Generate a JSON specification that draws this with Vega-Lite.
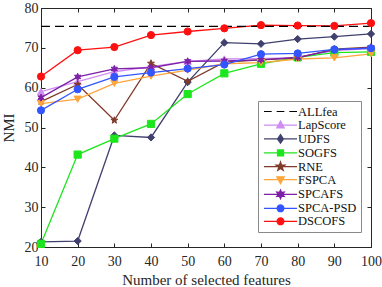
{
  "$schema": "https://vega.github.io/schema/vega-lite/v6.json",
  "width": 330,
  "height": 239,
  "autosize": {"type": "none"},
  "padding": {"left": 41, "top": 8, "right": 11, "bottom": 40},
  "background": "white",
  "config": {
    "view": {"stroke": "#262626", "strokeWidth": 1},
    "font": "Liberation Serif",
    "axis": {
      "labelFont": "Liberation Serif", "labelFontSize": 14, "labelColor": "#262626", "labelFlush": false,
      "titleFont": "Liberation Serif", "titleFontSize": 15, "titleFontWeight": "normal", "titleColor": "#262626",
      "domainColor": "#262626", "tickColor": "#262626", "tickSize": -4, "grid": false, "labelPadding": 11
    },
    "legend": {"symbolOpacity": 1}
  },
  "datasets": {
    "nmi": [
      {"features": 10, "method": "ALLfea", "nmi": 75.4}, {"features": 20, "method": "ALLfea", "nmi": 75.4}, {"features": 30, "method": "ALLfea", "nmi": 75.4}, {"features": 40, "method": "ALLfea", "nmi": 75.4}, {"features": 50, "method": "ALLfea", "nmi": 75.4}, {"features": 60, "method": "ALLfea", "nmi": 75.4}, {"features": 70, "method": "ALLfea", "nmi": 75.4}, {"features": 80, "method": "ALLfea", "nmi": 75.4}, {"features": 90, "method": "ALLfea", "nmi": 75.4}, {"features": 100, "method": "ALLfea", "nmi": 75.4},
      {"features": 10, "method": "LapScore", "nmi": 59.0}, {"features": 20, "method": "LapScore", "nmi": 61.5}, {"features": 30, "method": "LapScore", "nmi": 64.0}, {"features": 40, "method": "LapScore", "nmi": 65.3}, {"features": 50, "method": "LapScore", "nmi": 66.6}, {"features": 60, "method": "LapScore", "nmi": 67.2}, {"features": 70, "method": "LapScore", "nmi": 67.3}, {"features": 80, "method": "LapScore", "nmi": 67.6}, {"features": 90, "method": "LapScore", "nmi": 69.3}, {"features": 100, "method": "LapScore", "nmi": 69.8},
      {"features": 10, "method": "UDFS", "nmi": 21.3}, {"features": 20, "method": "UDFS", "nmi": 21.5}, {"features": 30, "method": "UDFS", "nmi": 48.0}, {"features": 40, "method": "UDFS", "nmi": 47.5}, {"features": 50, "method": "UDFS", "nmi": 61.4}, {"features": 60, "method": "UDFS", "nmi": 71.3}, {"features": 70, "method": "UDFS", "nmi": 71.0}, {"features": 80, "method": "UDFS", "nmi": 72.2}, {"features": 90, "method": "UDFS", "nmi": 72.8}, {"features": 100, "method": "UDFS", "nmi": 73.5},
      {"features": 10, "method": "SOGFS", "nmi": 20.8}, {"features": 20, "method": "SOGFS", "nmi": 43.2}, {"features": 30, "method": "SOGFS", "nmi": 47.2}, {"features": 40, "method": "SOGFS", "nmi": 50.9}, {"features": 50, "method": "SOGFS", "nmi": 58.4}, {"features": 60, "method": "SOGFS", "nmi": 63.6}, {"features": 70, "method": "SOGFS", "nmi": 66.0}, {"features": 80, "method": "SOGFS", "nmi": 67.6}, {"features": 90, "method": "SOGFS", "nmi": 68.8}, {"features": 100, "method": "SOGFS", "nmi": 69.0},
      {"features": 10, "method": "RNE", "nmi": 56.5}, {"features": 20, "method": "RNE", "nmi": 60.8}, {"features": 30, "method": "RNE", "nmi": 51.8}, {"features": 40, "method": "RNE", "nmi": 66.1}, {"features": 50, "method": "RNE", "nmi": 61.6}, {"features": 60, "method": "RNE", "nmi": 66.4}, {"features": 70, "method": "RNE", "nmi": 67.0}, {"features": 80, "method": "RNE", "nmi": 67.5}, {"features": 90, "method": "RNE", "nmi": 69.7}, {"features": 100, "method": "RNE", "nmi": 70.2},
      {"features": 10, "method": "FSPCA", "nmi": 56.0}, {"features": 20, "method": "FSPCA", "nmi": 57.1}, {"features": 30, "method": "FSPCA", "nmi": 61.1}, {"features": 40, "method": "FSPCA", "nmi": 62.9}, {"features": 50, "method": "FSPCA", "nmi": 64.4}, {"features": 60, "method": "FSPCA", "nmi": 66.0}, {"features": 70, "method": "FSPCA", "nmi": 66.3}, {"features": 80, "method": "FSPCA", "nmi": 67.2}, {"features": 90, "method": "FSPCA", "nmi": 67.5}, {"features": 100, "method": "FSPCA", "nmi": 68.5},
      {"features": 10, "method": "SPCAFS", "nmi": 57.5}, {"features": 20, "method": "SPCAFS", "nmi": 62.7}, {"features": 30, "method": "SPCAFS", "nmi": 64.7}, {"features": 40, "method": "SPCAFS", "nmi": 65.0}, {"features": 50, "method": "SPCAFS", "nmi": 66.6}, {"features": 60, "method": "SPCAFS", "nmi": 66.7}, {"features": 70, "method": "SPCAFS", "nmi": 67.0}, {"features": 80, "method": "SPCAFS", "nmi": 67.6}, {"features": 90, "method": "SPCAFS", "nmi": 69.5}, {"features": 100, "method": "SPCAFS", "nmi": 70.0},
      {"features": 10, "method": "SPCA-PSD", "nmi": 54.3}, {"features": 20, "method": "SPCA-PSD", "nmi": 59.6}, {"features": 30, "method": "SPCA-PSD", "nmi": 62.7}, {"features": 40, "method": "SPCA-PSD", "nmi": 63.8}, {"features": 50, "method": "SPCA-PSD", "nmi": 64.8}, {"features": 60, "method": "SPCA-PSD", "nmi": 65.8}, {"features": 70, "method": "SPCA-PSD", "nmi": 68.4}, {"features": 80, "method": "SPCA-PSD", "nmi": 68.6}, {"features": 90, "method": "SPCA-PSD", "nmi": 69.6}, {"features": 100, "method": "SPCA-PSD", "nmi": 69.9},
      {"features": 10, "method": "DSCOFS", "nmi": 62.8}, {"features": 20, "method": "DSCOFS", "nmi": 69.4}, {"features": 30, "method": "DSCOFS", "nmi": 70.2}, {"features": 40, "method": "DSCOFS", "nmi": 73.2}, {"features": 50, "method": "DSCOFS", "nmi": 74.1}, {"features": 60, "method": "DSCOFS", "nmi": 74.9}, {"features": 70, "method": "DSCOFS", "nmi": 75.7}, {"features": 80, "method": "DSCOFS", "nmi": 75.6}, {"features": 90, "method": "DSCOFS", "nmi": 75.5}, {"features": 100, "method": "DSCOFS", "nmi": 76.2}
    ]
  },
  "data": {"name": "nmi"},
  "resolve": {
    "scale": {"shape": "independent", "fill": "independent", "stroke": "independent"},
    "legend": {"shape": "independent", "fill": "independent", "stroke": "independent"},
    "axis": {"x": "independent", "y": "independent"}
  },
  "layer": [
    {
      "transform": [{"filter": "datum.method !== 'ALLfea'"}],
      "mark": {"type": "line", "strokeWidth": 1.3},
      "encoding": {
        "x": {"field": "features", "type": "quantitative", "scale": {"domain": [10, 100], "nice": false}, "axis": {"orient": "bottom", "values": [10,20,30,40,50,60,70,80,90,100], "title": "Number of selected features", "titlePadding": 4}},
        "y": {"field": "nmi", "type": "quantitative", "scale": {"domain": [20, 80], "nice": false}, "axis": {"orient": "left", "values": [20,30,40,50,60,70,80], "title": "NMI", "titlePadding": 8, "labelPadding": 7}},
        "stroke": {"field": "method", "type": "nominal", "legend": null,
          "scale": {"domain": ["ALLfea","LapScore","UDFS","SOGFS","RNE","FSPCA","SPCAFS","SPCA-PSD","DSCOFS"], "range": ["#000000","#D08CF2","#40406E","#1EE61E","#7F3A2A","#FFA53A","#7E1FA8","#3355FF","#FF1010"]}},
        "detail": {"field": "method"}
      }
    },
    {
      "transform": [{"filter": "datum.method === 'ALLfea'"}],
      "mark": {"type": "line", "strokeWidth": 1.3, "strokeDash": [9, 5], "color": "#000000"},
      "encoding": {
        "x": {"field": "features", "type": "quantitative", "axis": {"orient": "top", "values": [10,20,30,40,50,60,70,80,90,100], "labels": false, "title": null, "domain": false}},
        "y": {"field": "nmi", "type": "quantitative", "axis": {"orient": "right", "values": [20,30,40,50,60,70,80], "labels": false, "title": null, "domain": false}}
      }
    },
    {
      "transform": [{"filter": "datum.method !== 'ALLfea'"}],
      "mark": {"type": "point", "filled": true, "size": 52, "strokeWidth": 1, "opacity": 1},
      "encoding": {
        "x": {"field": "features", "type": "quantitative", "axis": null},
        "y": {"field": "nmi", "type": "quantitative", "axis": null},
        "fill": {"field": "method", "type": "nominal", "legend": null,
          "scale": {"domain": ["ALLfea","LapScore","UDFS","SOGFS","RNE","FSPCA","SPCAFS","SPCA-PSD","DSCOFS"], "range": ["#000000","#D08CF2","#40406E","#1EE61E","#7F3A2A","#FFA53A","#7E1FA8","#3355FF","#FF1010"]}},
        "stroke": {"field": "method", "type": "nominal", "legend": null,
          "scale": {"domain": ["ALLfea","LapScore","UDFS","SOGFS","RNE","FSPCA","SPCAFS","SPCA-PSD","DSCOFS"], "range": ["#000000","#D08CF2","#40406E","#1EE61E","#7F3A2A","#FFA53A","#7E1FA8","#3355FF","#FF1010"]}},
        "shape": {"field": "method", "type": "nominal", "legend": null,
          "scale": {"domain": ["ALLfea","LapScore","UDFS","SOGFS","RNE","FSPCA","SPCAFS","SPCA-PSD","DSCOFS"],
            "range": ["circle", "triangle-up", "diamond", "square",
              "M0,-1L0.235,-0.324L0.951,-0.309L0.38,0.124L0.588,0.809L0,0.4L-0.588,0.809L-0.38,0.124L-0.951,-0.309L-0.235,-0.324Z",
              "triangle-down",
              "M0,-1L0.25,-0.433L0.866,-0.5L0.5,0L0.866,0.5L0.25,0.433L0,1L-0.25,0.433L-0.866,0.5L-0.5,0L-0.866,-0.5L-0.25,-0.433Z",
              "circle", "circle"]}}
      }
    },
    {
      "mark": {"type": "point", "filled": true, "opacity": 0},
      "encoding": {
        "x": {"field": "features", "type": "quantitative", "axis": null},
        "y": {"field": "nmi", "type": "quantitative", "axis": null},
        "fill": {"field": "method", "type": "nominal",
          "legend": {"title": null, "orient": "none", "legendX": 217, "legendY": 93, "symbolSize": 121, "symbolStrokeWidth": 1.2, "symbolOffset": 12, "labelFont": "Liberation Serif", "labelFontSize": 12.5, "labelColor": "#111111", "padding": 4, "strokeColor": "#8a8a8a", "fillColor": "#ffffff", "rowPadding": -0.3, "labelOffset": 11, "symbolOpacity": 1},
          "scale": {"domain": ["ALLfea","LapScore","UDFS","SOGFS","RNE","FSPCA","SPCAFS","SPCA-PSD","DSCOFS"], "range": ["#000000","#D08CF2","#40406E","#1EE61E","#7F3A2A","#FFA53A","#7E1FA8","#3355FF","#FF1010"]}},
        "stroke": {"field": "method", "type": "nominal",
          "legend": {"title": null, "orient": "none", "legendX": 217, "legendY": 93, "symbolSize": 121, "symbolStrokeWidth": 1.2, "symbolOffset": 12, "labelFont": "Liberation Serif", "labelFontSize": 12.5, "labelColor": "#111111", "padding": 4, "strokeColor": "#8a8a8a", "fillColor": "#ffffff", "rowPadding": -0.3, "labelOffset": 11, "symbolOpacity": 1},
          "scale": {"domain": ["ALLfea","LapScore","UDFS","SOGFS","RNE","FSPCA","SPCAFS","SPCA-PSD","DSCOFS"], "range": ["#000000","#D08CF2","#40406E","#1EE61E","#7F3A2A","#FFA53A","#7E1FA8","#3355FF","#FF1010"]}},
        "shape": {"field": "method", "type": "nominal",
          "legend": {"title": null, "orient": "none", "legendX": 217, "legendY": 93, "symbolSize": 121, "symbolStrokeWidth": 1.2, "symbolOffset": 12, "labelFont": "Liberation Serif", "labelFontSize": 12.5, "labelColor": "#111111", "padding": 4, "strokeColor": "#8a8a8a", "fillColor": "#ffffff", "rowPadding": -0.3, "labelOffset": 11, "symbolOpacity": 1},
          "scale": {"domain": ["ALLfea","LapScore","UDFS","SOGFS","RNE","FSPCA","SPCAFS","SPCA-PSD","DSCOFS"],
            "range": [
              "M-3,0H-1.6M-0.7,0H0.7M1.6,0H3",
              "M-3,0H3M0,-0.75L0.68,0.5L-0.68,0.5Z",
              "M-3,0H3M0,-0.8L0.55,0L0,0.8L-0.55,0Z",
              "M-3,0H3M-0.55,-0.55H0.55V0.55H-0.55Z",
              "M-3,0H3M0,-0.85L0.2,-0.275L0.808,-0.263L0.323,0.105L0.5,0.688L0,0.34L-0.5,0.688L-0.323,0.105L-0.808,-0.263L-0.2,-0.275Z",
              "M-3,0H3M0,0.75L0.68,-0.5L-0.68,-0.5Z",
              "M-3,0H3M0,-0.8L0.2,-0.346L0.693,-0.4L0.4,0L0.693,0.4L0.2,0.346L0,0.8L-0.2,0.346L-0.693,0.4L-0.4,0L-0.693,-0.4L-0.2,-0.346Z",
              "M-3,0H3M0.62,0A0.62,0.62 0 1,1 -0.62,0A0.62,0.62 0 1,1 0.62,0Z",
              "M-3,0H3M0.62,0A0.62,0.62 0 1,1 -0.62,0A0.62,0.62 0 1,1 0.62,0Z"
            ]}}
      }
    }
  ]
}
